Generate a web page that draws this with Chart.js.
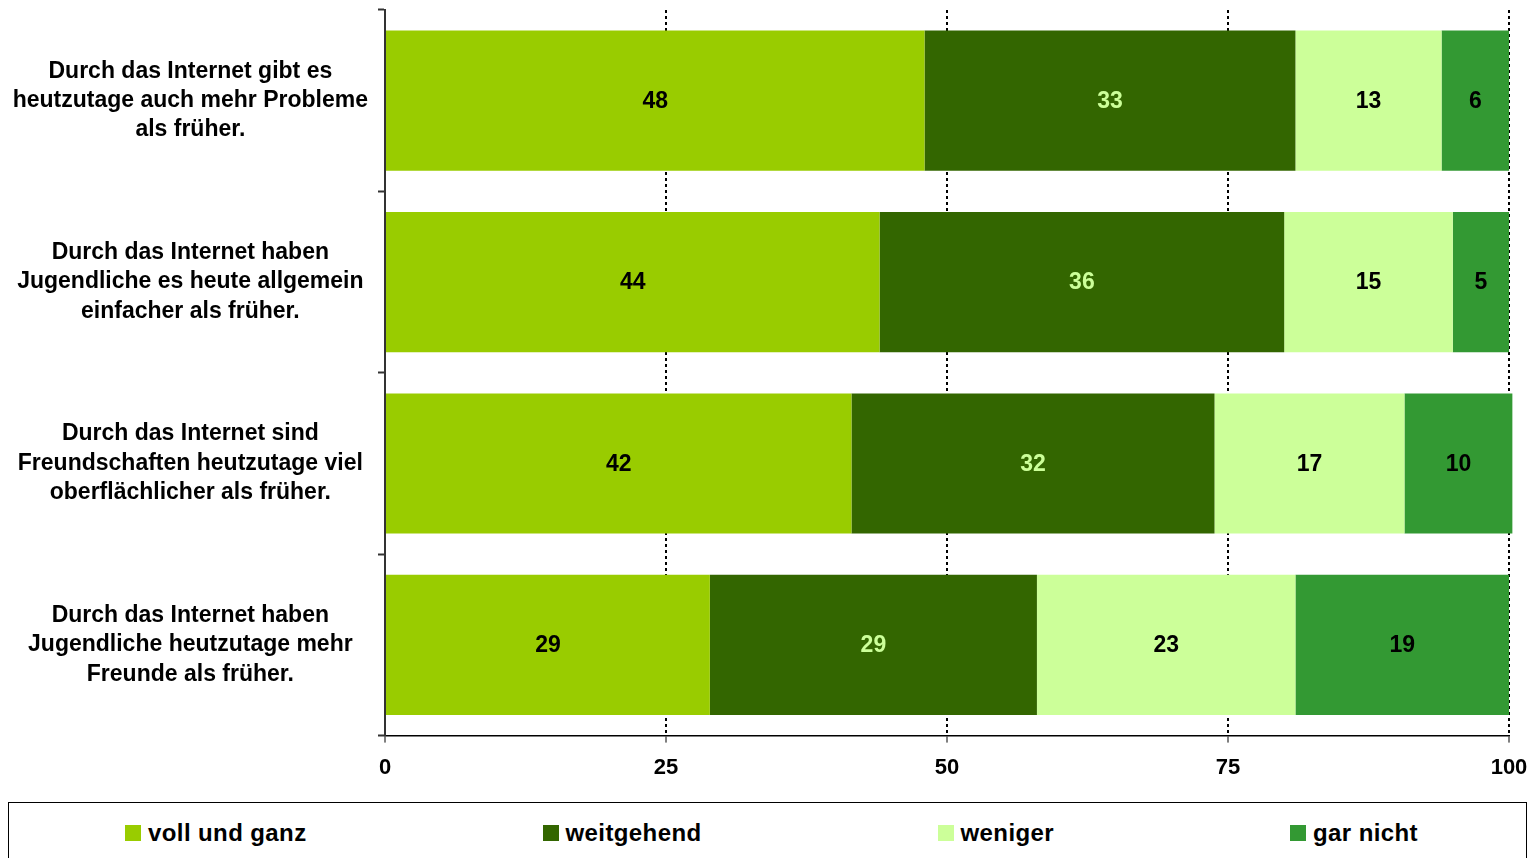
<!DOCTYPE html>
<html lang="de">
<head>
<meta charset="utf-8">
<title>Internet und Jugendliche</title>
<script src="https://cdn.jsdelivr.net/npm/chart.js@4/dist/chart.umd.min.js"></script>
<style>
    body { margin: 0; background: #fff; font-family: "Liberation Sans", Arial, sans-serif; }
    #wrap { position: absolute; left: 0; top: 0; width: 1535px; height: 800px; }
    #legend {
        position: absolute; left: 8px; top: 802px; width: 1519px; height: 70px;
        border: 1.5px solid #000; box-sizing: border-box;
        display: flex; justify-content: center; gap: 236px;
        padding-top: 16px; padding-left: 8px; font-weight: bold; font-size: 24px; letter-spacing: 0.4px; color: #000;
    }
    #legend .item { display: flex; align-items: center; height: 28px; }
    #legend .box { width: 16px; height: 16px; margin-right: 7px; }
</style>
</head>
<body>
<div id="wrap"><canvas id="chart"></canvas></div>
<div id="legend"></div>
<script>
const categories = [
    ["Durch das Internet gibt es", "heutzutage auch mehr Probleme", "als früher."],
    ["Durch das Internet haben", "Jugendliche es heute allgemein", "einfacher als früher."],
    ["Durch das Internet sind", "Freundschaften heutzutage viel", "oberflächlicher als früher."],
    ["Durch das Internet haben", "Jugendliche heutzutage mehr", "Freunde als früher."]
];
const seriesNames = ["voll und ganz", "weitgehend", "weniger", "gar nicht"];
const vollUndGanz = [48, 44, 41.5, 28.9];
const weitgehend = [33, 36, 32.3, 29.1];
const weniger = [13, 15, 16.9, 23];
const garNicht = [6, 5, 9.6, 19];
const xTicks = [0, 25, 50, 75, 100];

const colors = ["#99CC00", "#336600", "#CCFF99", "#339933"];
const labelColors = ["#000", "#CCFF99", "#000", "#000"];
const font = "'Liberation Sans', Arial, sans-serif";

const values = [vollUndGanz, weitgehend, weniger, garNicht];

// draws the rounded value in the middle of every bar segment
const barLabels = {
    id: "barLabels",
    afterDatasetsDraw(chart) {
        const ctx = chart.ctx;
        ctx.save();
        ctx.font = "bold 23px " + font;
        ctx.textAlign = "center";
        ctx.textBaseline = "middle";
        chart.data.datasets.forEach((ds, i) => {
            chart.getDatasetMeta(i).data.forEach((bar, j) => {
                const p = bar.getProps(["x", "y", "base"], true);
                ctx.fillStyle = labelColors[i];
                ctx.fillText(Math.round(ds.data[j]), (p.x + p.base) / 2, p.y + 1);
            });
        });
        ctx.restore();
    }
};

const chart = new Chart(document.getElementById("chart"), {
    type: "bar",
    data: {
        labels: categories,
        datasets: seriesNames.map((name, i) => ({
            label: name,
            data: values[i],
            backgroundColor: colors[i],
            barPercentage: 0.773,
            categoryPercentage: 1,
            clip: false
        }))
    },
    options: {
        indexAxis: "y",
        responsive: true,
        maintainAspectRatio: false,
        animation: false,
        layout: { padding: { top: 10, right: 26, bottom: 7, left: 0 } },
        plugins: {
            legend: { display: false },
            tooltip: { enabled: false }
        },
        scales: {
            x: {
                stacked: true,
                min: 0,
                max: 100,
                afterBuildTicks: scale => { scale.ticks = xTicks.map(v => ({ value: v })); },
                afterFit: scale => {
                    scale.paddingLeft = 0;
                    scale.paddingRight = 0;
                },
                grid: {
                    color: c => c.tick && c.tick.value === 0 ? "transparent" : "#000",
                    lineWidth: 2,
                    tickColor: "#000",
                    tickWidth: 1,
                    tickLength: 7,
                    tickBorderDash: []
                },
                border: { display: true, color: "#000", width: 1.5, dash: [3, 3] },
                ticks: {
                    color: "#000",
                    padding: 12,
                    font: { family: font, size: 22, weight: "bold" }
                }
            },
            y: {
                stacked: true,
                afterFit: scale => {
                    scale.width = 385;
                    scale.paddingTop = 0;
                    scale.paddingBottom = 0;
                },
                grid: {
                    drawOnChartArea: false,
                    tickColor: "#333",
                    tickWidth: 2,
                    tickLength: 7
                },
                border: { display: true, color: "#333", width: 2 },
                ticks: {
                    color: "#000",
                    crossAlign: "center",
                    padding: 10,
                    font: { family: font, size: 23, weight: "bold", lineHeight: 1.28 }
                }
            }
        }
    },
    plugins: [barLabels]
});

const legend = document.getElementById("legend");
chart.data.datasets.forEach(ds => {
    const item = document.createElement("div");
    item.className = "item";
    const box = document.createElement("span");
    box.className = "box";
    box.style.background = ds.backgroundColor;
    item.appendChild(box);
    item.appendChild(document.createTextNode(ds.label));
    legend.appendChild(item);
});
</script>
</body>
</html>
